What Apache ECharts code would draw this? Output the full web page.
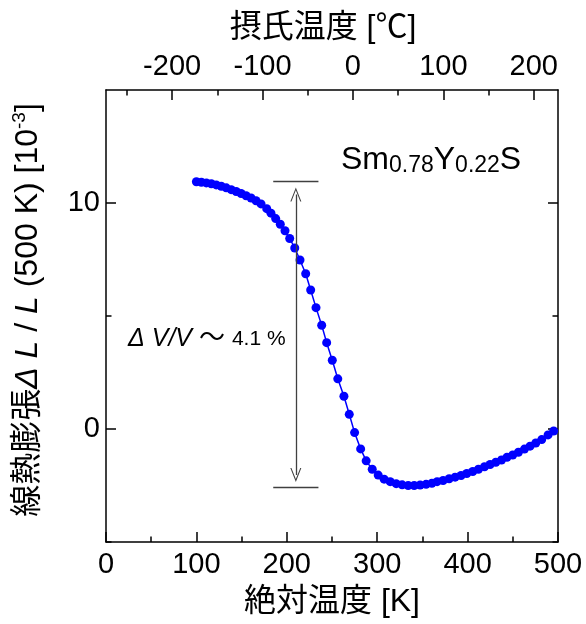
<!DOCTYPE html>
<html><head><meta charset="utf-8">
<script src="https://cdn.jsdelivr.net/npm/echarts@6/dist/echarts.min.js"></script>
<style>html,body{margin:0;padding:0;background:#fff}#c{width:586px;height:624px}</style>
</head><body><div id="c"></div>
<script>
// ---- data ----
const tempK = [100, 105.5, 111, 116.5, 122, 127.5, 133, 138.5, 144, 149.5, 155, 160.5, 166, 171.5,
  177.8, 182.5, 187.7, 192.8, 198.0, 203.2, 208.8, 214.6, 220.9, 226.4, 232.3, 238.6, 244.1, 250.3,
  256.4, 263.2, 269.1, 275.0, 281.7, 287.8, 294.5, 301.1, 307.7, 314.4, 321.0, 327.6, 334.3, 340.9,
  347.5, 354.1, 360.5, 366.3, 372.9, 379.6, 386.2, 392.8, 399.1, 405.7, 412.0, 418.7, 424.9, 431.2,
  437.5, 443.6, 449.9, 456.2, 462.9, 469.1, 475.4, 482.0, 489.0, 495.2];
const expansion = [10.94, 10.92, 10.89, 10.85, 10.80, 10.74, 10.67, 10.59, 10.51, 10.42, 10.32, 10.22, 10.10, 9.96,
  9.75, 9.55, 9.31, 9.06, 8.77, 8.43, 8.01, 7.48, 6.87, 6.15, 5.37, 4.59, 3.82, 3.04,
  2.22, 1.45, 0.65, -0.16, -0.88, -1.41, -1.78, -2.04, -2.22, -2.33, -2.42, -2.47, -2.50, -2.50,
  -2.48, -2.45, -2.40, -2.33, -2.28, -2.20, -2.13, -2.06, -1.97, -1.88, -1.78, -1.67, -1.57, -1.47,
  -1.37, -1.25, -1.15, -1.03, -0.89, -0.76, -0.62, -0.47, -0.26, -0.09];

const celsiusMajor = [-200, -100, 0, 100, 200];
const celsiusMinor = [-250, -150, -50, 50, 150];
const yMajor = [0, 10];
const yMinor = [-5, 5];

// annotation (data coordinates)
const bracketX = [185, 235];
const bracketY = [10.97, -2.59];
const arrowX = 210;
const arrowY = [10.38, -2.03];

const FONT = "'Liberation Sans', 'Noto Sans CJK JP', sans-serif";
const K0 = 273.15;
const AX = {color: '#000', width: 1.5};

const chart = echarts.init(document.getElementById('c'));
const chevron = 'path://M0,0 L6,14 L4.8,14 L0,2.8 L-4.8,14 L-6,14 Z';

function minorAxis(extra) {
  return Object.assign({
    axisLine: {show: false, onZero: false},
    axisTick: {show: true, inside: true, length: 5.5, lineStyle: AX},
    axisLabel: {show: false},
    splitLine: {show: false}
  }, extra);
}

chart.setOption({
  animation: false,
  grid: {left: 106, right: 28, top: 90, bottom: 82, containLabel: false, outerBoundsMode: 'none'},
  xAxis: [
    {
      type: 'value', position: 'bottom', min: 0, max: 500, interval: 100,
      axisLine: {show: true, onZero: false, lineStyle: AX},
      axisTick: {show: true, inside: true, length: 10, lineStyle: AX},
      minorTick: {show: true, splitNumber: 2, length: 5.5, lineStyle: AX},
      splitLine: {show: false},
      axisLabel: {fontSize: 29, color: '#000', fontFamily: FONT, margin: 8},
      name: '絶対温度 [K]', nameLocation: 'middle', nameGap: 44,
      nameTextStyle: {fontSize: 32, color: '#000', fontFamily: FONT}
    },
    {
      type: 'value', position: 'top', min: -K0, max: 500 - K0,
      axisLine: {show: true, onZero: false, lineStyle: AX},
      axisTick: {show: true, inside: true, length: 10, lineStyle: AX, customValues: celsiusMajor},
      axisLabel: {fontSize: 29, color: '#000', fontFamily: FONT, margin: 8, customValues: celsiusMajor},
      splitLine: {show: false},
      name: '摂氏温度 [℃]', nameLocation: 'middle', nameGap: 46,
      nameTextStyle: {fontSize: 32, color: '#000', fontFamily: FONT, padding: [0, 18, 0, 0]}
    },
    minorAxis({type: 'value', position: 'top', min: -K0, max: 500 - K0,
      axisTick: {show: true, inside: true, length: 5.5, lineStyle: AX, customValues: celsiusMinor}})
  ],
  yAxis: [
    {
      type: 'value', position: 'left', min: -5, max: 15,
      axisLine: {show: true, onZero: false, lineStyle: AX},
      axisTick: {show: true, inside: true, length: 10, lineStyle: AX, customValues: yMajor},
      axisLabel: {fontSize: 29, color: '#000', fontFamily: FONT, margin: 6, customValues: yMajor},
      splitLine: {show: false},
      name: '線熱膨張{i|Δ L} / {i|L} (500 K) [10{sup|-3}]',
      nameLocation: 'middle', nameGap: 60, nameRotate: 90,
      nameTextStyle: {
        fontSize: 32, color: '#000', fontFamily: FONT, lineHeight: 36, padding: [0, 0, 0, 12],
        rich: {
          i: {fontSize: 32, fontStyle: 'italic', color: '#000', fontFamily: FONT, lineHeight: 36},
          sup: {fontSize: 19, color: '#000', fontFamily: FONT, lineHeight: 20, verticalAlign: 'top'}
        }
      }
    },
    minorAxis({type: 'value', position: 'left', min: -5, max: 15,
      axisTick: {show: true, inside: true, length: 5.5, lineStyle: AX, customValues: yMinor}}),
    {
      type: 'value', position: 'right', min: -5, max: 15,
      axisLine: {show: true, onZero: false, lineStyle: AX},
      axisTick: {show: true, inside: true, length: 10, lineStyle: AX, customValues: yMajor},
      axisLabel: {show: false},
      splitLine: {show: false}
    },
    minorAxis({type: 'value', position: 'right', min: -5, max: 15,
      axisTick: {show: true, inside: true, length: 5.5, lineStyle: AX, customValues: yMinor}})
  ],
  series: [{
    type: 'line', xAxisIndex: 0, yAxisIndex: 0,
    data: tempK.map((t, i) => [t, expansion[i]]),
    symbol: 'circle', symbolSize: 9,
    itemStyle: {color: '#0000ff'},
    lineStyle: {color: '#0000ff', width: 1.5},
    clip: false,
    markLine: {
      silent: true, animation: false,
      label: {show: false},
      lineStyle: {color: '#404040', width: 1.3, type: 'solid'},
      emphasis: {disabled: true},
      data: [
        [{coord: [bracketX[0], bracketY[0]], symbol: 'none'}, {coord: [bracketX[1], bracketY[0]], symbol: 'none'}],
        [{coord: [bracketX[0], bracketY[1]], symbol: 'none'}, {coord: [bracketX[1], bracketY[1]], symbol: 'none'}],
        [{coord: [arrowX, arrowY[0]], symbol: chevron, symbolSize: [11, 14]},
         {coord: [arrowX, arrowY[1]], symbol: chevron, symbolSize: [11, 14]}]
      ]
    }
  }],
  graphic: [
    {
      type: 'text', x: 341, y: 143, silent: true,
      style: {
        text: 'Sm{sub|0.78}Y{sub|0.22}S',
        fontSize: 32, fontFamily: FONT, fill: '#000', lineHeight: 34,
        rich: {
          sub: {fontSize: 23, fontFamily: FONT, fill: '#000', lineHeight: 14, verticalAlign: 'bottom'}
        }
      }
    },
    {
      type: 'text', x: 128, y: 324, silent: true,
      style: {
        text: '{i|Δ V/V} {t|～} {n|4.1 %}',
        fontSize: 25, fontFamily: FONT, fill: '#000', lineHeight: 30,
        rich: {
          i: {fontSize: 25, fontStyle: 'italic', fontFamily: FONT, fill: '#000', lineHeight: 30},
          t: {fontSize: 26, fontFamily: FONT, fill: '#000', lineHeight: 30},
          n: {fontSize: 21, fontFamily: FONT, fill: '#000', lineHeight: 30}
        }
      }
    }
  ]
});
</script>
</body></html>
